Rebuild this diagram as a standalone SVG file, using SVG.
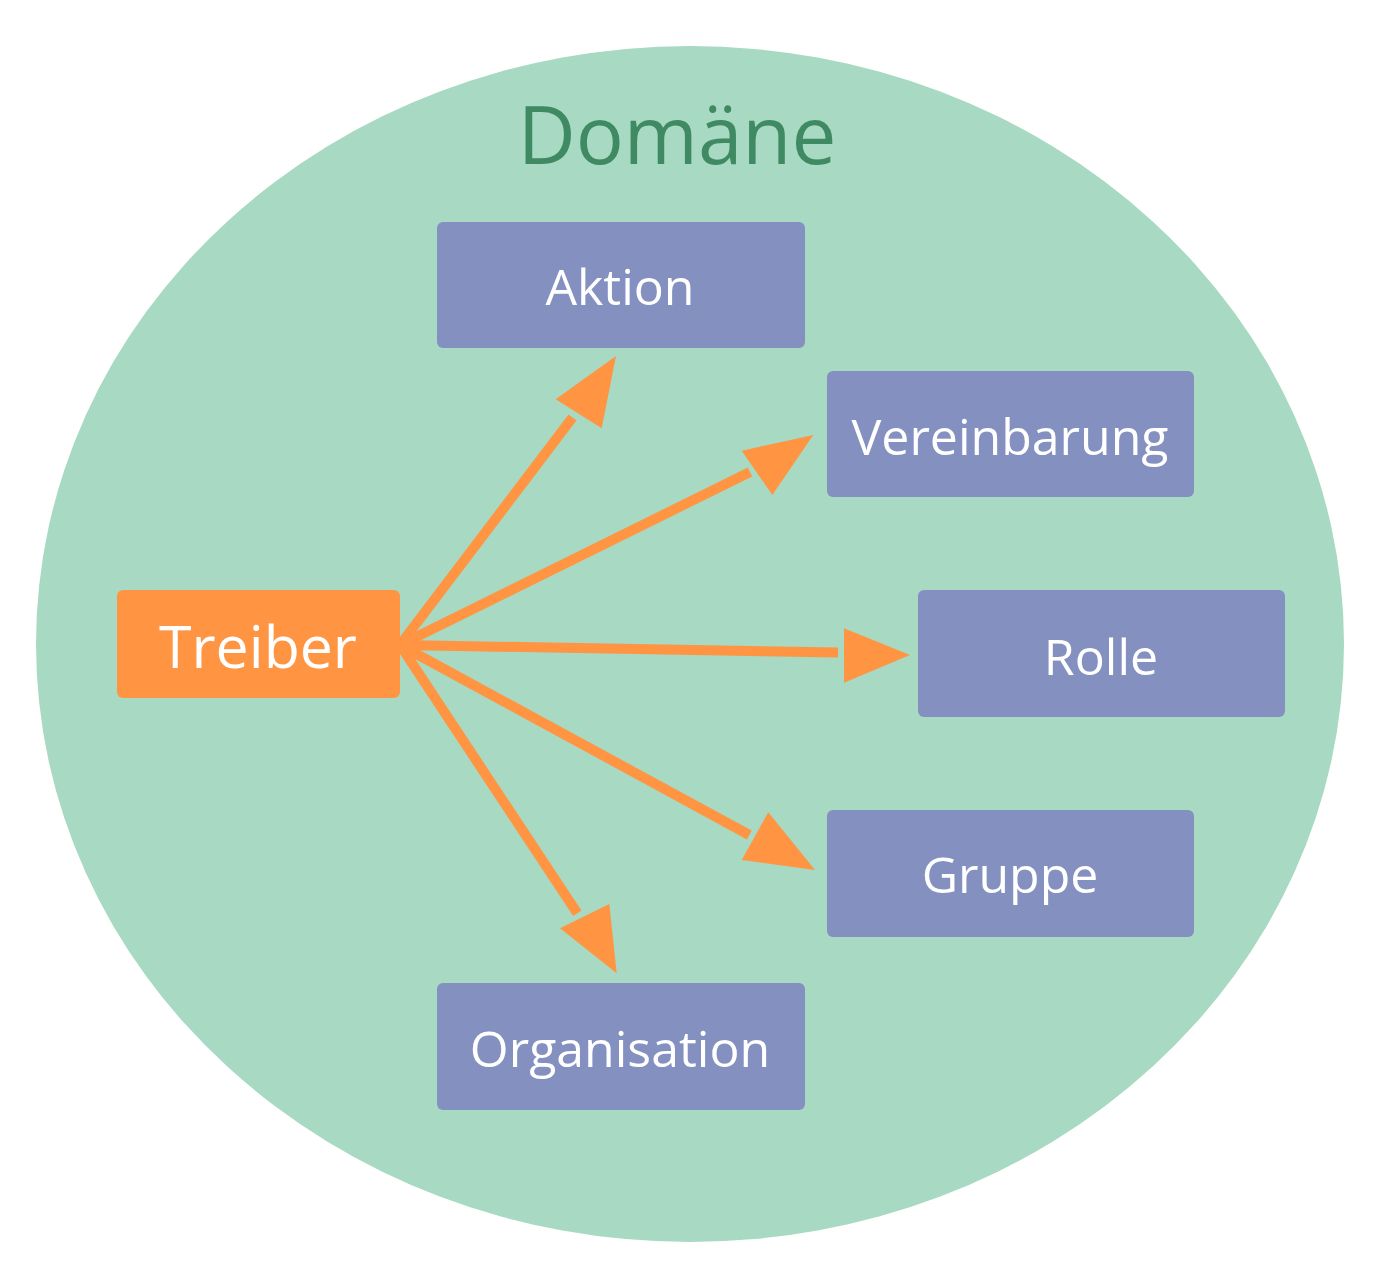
<svg xmlns="http://www.w3.org/2000/svg" width="1380" height="1263" viewBox="0 0 1380 1263">
<style>
.box{fill:#8390c0}
.lbl{font-family:"Open Sans","Noto Sans","Liberation Sans",sans-serif;fill:#ffffff;text-anchor:middle;font-size:50px}
.big{font-size:59px}
.ln{stroke:#ff9543;stroke-width:10;fill:none}
.hd{fill:#ff9543}
</style>
<rect width="1380" height="1263" fill="#ffffff"/>
<g id="domain">
<ellipse cx="690" cy="644" rx="654" ry="598" fill="#a8d9c2"/>
<text x="677" y="164" font-family="'Open Sans','Noto Sans','Liberation Sans',sans-serif" font-size="80" fill="#3f8a62" text-anchor="middle">Domäne</text>
</g>
<g id="connectors">
<line class="ln" x1="400" y1="645" x2="572.5" y2="417.5"/>
<polygon class="hd" points="555.7,399.3 601.7,428.3 616,356"/>
<line class="ln" x1="400" y1="645" x2="750" y2="472"/>
<polygon class="hd" points="741.7,450.7 772.3,495 813.3,435"/>
<line class="ln" x1="400" y1="645" x2="838" y2="652.5"/>
<polygon class="hd" points="844,628.3 844,682.7 910,655"/>
<line class="ln" x1="400" y1="645" x2="749.3" y2="835"/>
<polygon class="hd" points="768.3,812.3 741.7,860 815,870"/>
<line class="ln" x1="400" y1="645" x2="577.3" y2="913.3"/>
<polygon class="hd" points="609.3,904 560,928.3 616.7,973.3"/>
</g>
<g id="treiber">
<rect x="117" y="590" width="283" height="108" rx="6" fill="#ff9543"/>
<text class="lbl big" x="258" y="668">Treiber</text>
</g>
<g id="aktion">
<rect class="box" x="437" y="222" width="368" height="126" rx="6"/>
<text class="lbl" x="620" y="305">Aktion</text>
</g>
<g id="vereinbarung">
<rect class="box" x="827" y="371" width="367" height="126" rx="6"/>
<text class="lbl" x="1010" y="455">Vereinbarung</text>
</g>
<g id="rolle">
<rect class="box" x="918" y="590" width="367" height="127" rx="6"/>
<text class="lbl" x="1101" y="675">Rolle</text>
</g>
<g id="gruppe">
<rect class="box" x="827" y="810" width="367" height="127" rx="6"/>
<text class="lbl" x="1010" y="893">Gruppe</text>
</g>
<g id="organisation">
<rect class="box" x="437" y="983" width="368" height="127" rx="6"/>
<text class="lbl" x="620" y="1067">Organisation</text>
</g>
</svg>
